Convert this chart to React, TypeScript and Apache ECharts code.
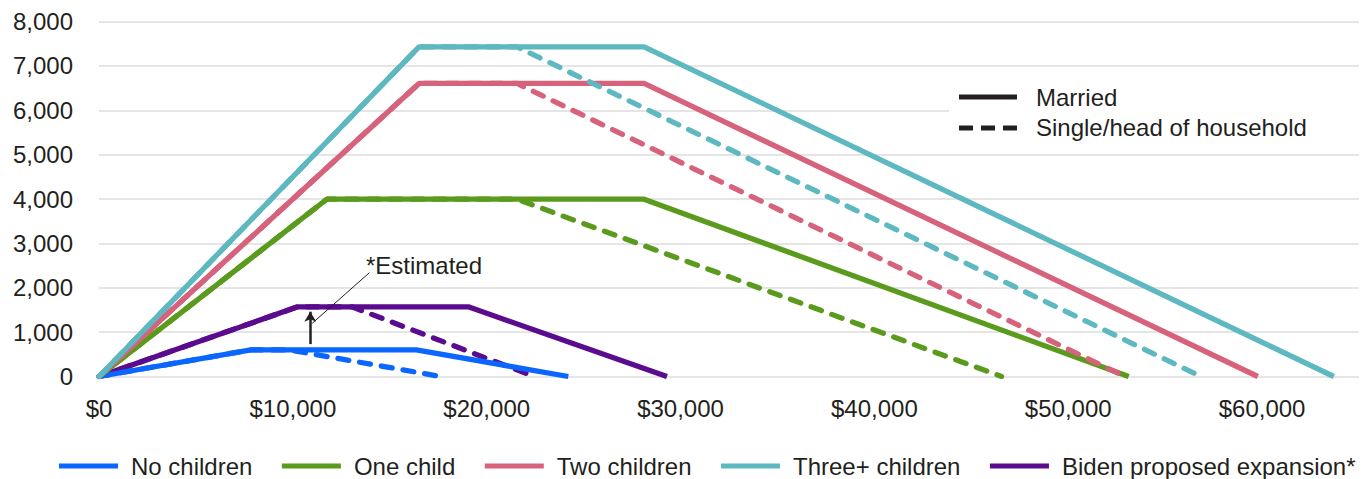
import React, { useEffect, useRef } from "react";
import * as echarts from "echarts";

// Credit schedule per household type (USD)
const groups = ["No children", "One child", "Two children", "Three+ children", "Biden proposed expansion*"];
const colors = ["#0A66FF", "#5A9A1C", "#D6627B", "#5DB8C1", "#5B0B8E"];
const maxCredit = [600, 3995, 6604, 7430, 1570];
const phaseInEnd = [7840, 11750, 16510, 16510, 10250];
const marriedPhaseOutStart = [16370, 28120, 28120, 28120, 19050];
const marriedPhaseOutEnd = [24210, 53120, 59778, 63698, 29300];
const singlePhaseOutStart = [9800, 21560, 21560, 21560, 13050];
const singlePhaseOutEnd = [17640, 46560, 52918, 56838, 22450];

// Axis ticks
const xTicks = [0, 10000, 20000, 30000, 40000, 50000, 60000];
const xMax = 65000;
const yTicks = [0, 1000, 2000, 3000, 4000, 5000, 6000, 7000, 8000];

// Arrow pointing from the childless line up to the proposed expansion
const arrowX = 10900;
const arrowFrom = 730;
const arrowTo = 1460;
const leaderFrom = [11000, 1200];
const leaderTo = [13950, 2340];

const FONT = "'Liberation Sans', Arial, Helvetica, sans-serif";
const TEXT = "#231F20";
const LINE_W = 5.3;

function schedule(i: number, married: boolean): number[][] {
  const start = married ? marriedPhaseOutStart[i] : singlePhaseOutStart[i];
  const end = married ? marriedPhaseOutEnd[i] : singlePhaseOutEnd[i];
  return [
    [0, 0],
    [phaseInEnd[i], maxCredit[i]],
    [start, maxCredit[i]],
    [end, 0],
  ];
}

export default function App() {
  const ref = useRef<HTMLDivElement>(null);

  useEffect(() => {
    if (!ref.current) return;
    const chart = echarts.init(ref.current, null, { renderer: "svg" });

    // Draw the expansion first so the other groups sit above it
    const order = [4, 0, 1, 2, 3];
    const series: any[] = [];
    order.forEach((i) => {
      const solid: any = {
        name: groups[i],
        type: "line",
        data: schedule(i, true),
        showSymbol: false,
        symbol: "none",
        color: colors[i],
        lineStyle: { width: LINE_W, color: colors[i] },
        emphasis: { disabled: true },
      };
      if (i === 4) {
        solid.markLine = {
          silent: true,
          animation: false,
          label: { show: false },
          emphasis: { disabled: true },
          data: [
            [
              { coord: [arrowX, arrowFrom], symbol: "none", lineStyle: { width: 2.5, color: TEXT, type: "solid" } },
              { coord: [arrowX, arrowTo], symbol: "arrow", symbolSize: [9, 10] },
            ],
            [
              { coord: leaderFrom, symbol: "none", lineStyle: { width: 1, color: TEXT, type: "solid" } },
              { coord: leaderTo, symbol: "none" },
            ],
          ],
        };
      }
      series.push(solid);
      series.push({
        name: groups[i],
        type: "line",
        data: schedule(i, false),
        showSymbol: false,
        symbol: "none",
        color: colors[i],
        lineStyle: { width: LINE_W, color: colors[i], type: [11, 11], cap: "round" },
        emphasis: { disabled: true },
      });
    });

    chart.setOption({
      animation: false,
      textStyle: { fontFamily: FONT, color: TEXT },
      grid: { left: 99, right: 5, top: 21.5, bottom: 102.5, containLabel: false },
      xAxis: {
        type: "value",
        min: xTicks[0],
        max: xMax,
        interval: xTicks[1] - xTicks[0],
        axisLine: { show: false },
        axisTick: { show: false },
        splitLine: { show: false },
        axisLabel: {
          fontSize: 24,
          color: TEXT,
          fontFamily: FONT,
          margin: 20,
          showMaxLabel: false,
          formatter: (v: number) => (xTicks.includes(v) ? "$" + v.toLocaleString("en-US") : ""),
        },
      },
      yAxis: {
        type: "value",
        min: yTicks[0],
        max: yTicks[yTicks.length - 1],
        interval: yTicks[1] - yTicks[0],
        axisLine: { show: false },
        axisTick: { show: false },
        splitLine: { show: true, lineStyle: { color: "#DCDCDC", width: 1.5 } },
        axisLabel: {
          fontSize: 24,
          color: TEXT,
          fontFamily: FONT,
          margin: 26,
          formatter: (v: number) => v.toLocaleString("en-US"),
        },
      },
      legend: {
        data: groups,
        left: 59,
        top: 454,
        padding: 0,
        icon: "rect",
        itemWidth: 59,
        itemHeight: 5,
        itemGap: 29.5,
        selectedMode: false,
        formatter: (name: string) => "{gap|}{label|" + name + "}",
        textStyle: {
          fontSize: 24,
          color: TEXT,
          fontFamily: FONT,
          rich: {
            gap: { width: 8 },
            label: { fontSize: 24, color: TEXT, fontFamily: FONT },
          },
        },
      },
      graphic: [
        {
          type: "rect",
          z: 1,
          silent: true,
          shape: { x: 949, y: 80, width: 415, height: 64 },
          style: { fill: "#FFFFFF" },
        },
        {
          type: "line",
          z: 2,
          silent: true,
          shape: { x1: 959, y1: 97, x2: 1017, y2: 97 },
          style: { stroke: TEXT, lineWidth: 5 },
        },
        {
          type: "line",
          z: 2,
          silent: true,
          shape: { x1: 959, y1: 128, x2: 1017, y2: 128 },
          style: { stroke: TEXT, lineWidth: 5, lineDash: [14, 8] },
        },
        {
          type: "text",
          z: 2,
          silent: true,
          x: 1036,
          y: 97,
          style: { text: "Married", font: `24px ${FONT}`, fill: TEXT, verticalAlign: "middle" },
        },
        {
          type: "text",
          z: 2,
          silent: true,
          x: 1036,
          y: 127,
          style: { text: "Single/head of household", font: `24px ${FONT}`, fill: TEXT, verticalAlign: "middle" },
        },
        {
          type: "text",
          z: 2,
          silent: true,
          x: 366,
          y: 265,
          style: { text: "*Estimated", font: `24px ${FONT}`, fill: TEXT, verticalAlign: "middle" },
        },
      ],
      series,
    });

    return () => chart.dispose();
  }, []);

  return (
    <div
      ref={ref}
      style={{ position: "fixed", left: 0, top: 0, width: 1364, height: 479, background: "#FFFFFF" }}
    />
  );
}
